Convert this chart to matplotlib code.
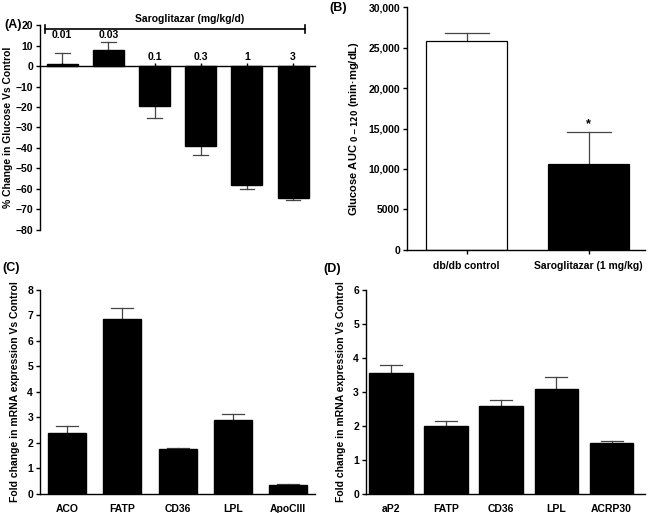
import matplotlib.pyplot as plt
import numpy as np

plt.rcParams['font.family'] = ['Liberation Sans', 'DejaVu Sans']
plt.rcParams['font.weight'] = 'bold'
plt.rcParams['font.size'] = 7.5

# ── Panel A: % change in glucose ──
doses_a = ["0.01", "0.03", "0.1", "0.3", "1", "3"]
glucose_change = [1.0, 8.0, -19.5, -39.0, -58.0, -64.5]
glucose_err = [5.5, 4.0, 6.0, 4.5, 2.0, 1.0]

# ── Panel B: glucose AUC ──
groups_b = ["db/db control", "Saroglitazar (1 mg/kg)"]
auc_vals = [25800, 10600]
auc_err = [1000, 4000]
auc_ticks = [0, 5000, 10000, 15000, 20000, 25000, 30000]
auc_ticklabels = ["0", "5000", "10,000", "15,000", "20,000", "25,000", "30,000"]

# ── Panel C: liver genes ──
genes_c = ["ACO", "FATP", "CD36", "LPL", "ApoCIII"]
fold_c = [2.4, 6.85, 1.75, 2.9, 0.35]
fold_c_err = [0.25, 0.43, 0.06, 0.25, 0.03]

# ── Panel D: adipose genes ──
genes_d = ["aP2", "FATP", "CD36", "LPL", "ACRP30"]
fold_d = [3.55, 2.0, 2.6, 3.1, 1.5]
fold_d_err = [0.25, 0.15, 0.17, 0.35, 0.05]

ERR_COLOR = "#444444"

fig = plt.figure(figsize=(6.5, 5.13), dpi=100)


def one_sided_err(ax, x, vals, errs, width_cap=0.16):
    for xi, v, e in zip(x, vals, errs):
        top = v + e if v >= 0 else v - e
        ax.plot([xi, xi], [v, top], color=ERR_COLOR, lw=0.9, zorder=1)
        ax.plot([xi - width_cap, xi + width_cap], [top, top], color=ERR_COLOR, lw=0.9, zorder=1)


def style_axes(ax):
    for s in ["top", "right"]:
        ax.spines[s].set_visible(False)
    ax.spines["left"].set_linewidth(1.0)
    ax.spines["bottom"].set_linewidth(1.0)
    ax.tick_params(axis="y", length=3, width=1, pad=2)


# Panel A
axA = fig.add_axes([0.0615, 0.552, 0.4235, 0.399])
xa = np.arange(len(doses_a))
axA.bar(xa, glucose_change, width=0.67, color="black", edgecolor="black", zorder=2)
one_sided_err(axA, xa, glucose_change, glucose_err)
axA.set_xlim(-0.48, 5.48)
axA.set_ylim(-80, 20)
axA.set_yticks(np.arange(-80, 21, 10))
style_axes(axA)
axA.spines["bottom"].set_position(("data", 0))
axA.set_xticks(xa)
axA.set_xticklabels([])
axA.tick_params(axis="x", direction="in", length=2.5, width=1)
for xi, v, d in zip(xa, glucose_change, doses_a):
    ylab = 15 if v > 0 else 4.5
    axA.text(xi, ylab, d, ha="center", va="center", fontsize=7.5, fontweight="bold")
# bracket over the dose range
axA.plot([-0.37, 5.26], [18, 18], color="black", lw=1.2, clip_on=False)
axA.plot([-0.37, -0.37], [16, 20], color="black", lw=1.2, clip_on=False)
axA.plot([5.26, 5.26], [16, 20], color="black", lw=1.2, clip_on=False)
axA.text(2.75, 23, "Saroglitazar (mg/kg/d)", ha="center", va="center", fontsize=7.5,
         fontweight="bold", clip_on=False)
axA.set_ylabel("% Change in Glucose Vs Control", fontsize=7.5, fontweight="bold", labelpad=2)

# Panel B
axB = fig.add_axes([0.626, 0.513, 0.366, 0.473])
xb = np.arange(len(groups_b))
axB.bar(xb, auc_vals, width=0.66, color=["white", "black"], edgecolor="black", lw=0.9, zorder=2)
one_sided_err(axB, xb, auc_vals, auc_err, width_cap=0.18)
axB.text(1, auc_vals[1] + auc_err[1] + 250, "*", ha="center", va="bottom", fontsize=9)
axB.set_xlim(-0.49, 1.46)
axB.set_ylim(0, 30000)
axB.set_yticks(auc_ticks)
axB.set_yticklabels(auc_ticklabels)
axB.set_xticks(xb)
axB.set_xticklabels(groups_b)
style_axes(axB)
axB.tick_params(axis="x", length=3, width=1, pad=5)
axB.set_ylabel("Glucose AUC $_{0-120}$ (min·mg/dL)", fontsize=8, fontweight="bold", labelpad=5)

# Panel C
axC = fig.add_axes([0.0615, 0.037, 0.4235, 0.398])
xc = np.arange(len(genes_c))
axC.bar(xc, fold_c, width=0.69, color="black", edgecolor="black", zorder=2)
one_sided_err(axC, xc, fold_c, fold_c_err, width_cap=0.2)
axC.set_xlim(-0.49, 4.49)
axC.set_ylim(0, 8)
axC.set_yticks(range(0, 9))
axC.set_xticks(xc)
axC.set_xticklabels(genes_c)
style_axes(axC)
axC.tick_params(axis="x", length=0, pad=7)
axC.set_ylabel("Fold change in mRNA expression Vs Control", fontsize=7.5, fontweight="bold", labelpad=5)

# Panel D
axD = fig.add_axes([0.563, 0.037, 0.429, 0.398])
xd = np.arange(len(genes_d))
axD.bar(xd, fold_d, width=0.79, color="black", edgecolor="black", zorder=2)
one_sided_err(axD, xd, fold_d, fold_d_err, width_cap=0.2)
axD.set_xlim(-0.45, 4.6)
axD.set_ylim(0, 6)
axD.set_yticks(range(0, 7))
axD.set_xticks(xd)
axD.set_xticklabels(genes_d)
style_axes(axD)
axD.tick_params(axis="x", length=0, pad=7)
axD.set_ylabel("Fold change in mRNA expression Vs Control", fontsize=7.5, fontweight="bold", labelpad=5)

# Panel letters
fig.text(0.006, 0.951, "(A)", fontsize=9, fontweight="bold", va="center")
fig.text(0.507, 0.984, "(B)", fontsize=9, fontweight="bold", va="center")
fig.text(0.004, 0.478, "(C)", fontsize=9, fontweight="bold", va="center")
fig.text(0.497, 0.476, "(D)", fontsize=9, fontweight="bold", va="center")

fig.savefig("out.png", dpi=100)
